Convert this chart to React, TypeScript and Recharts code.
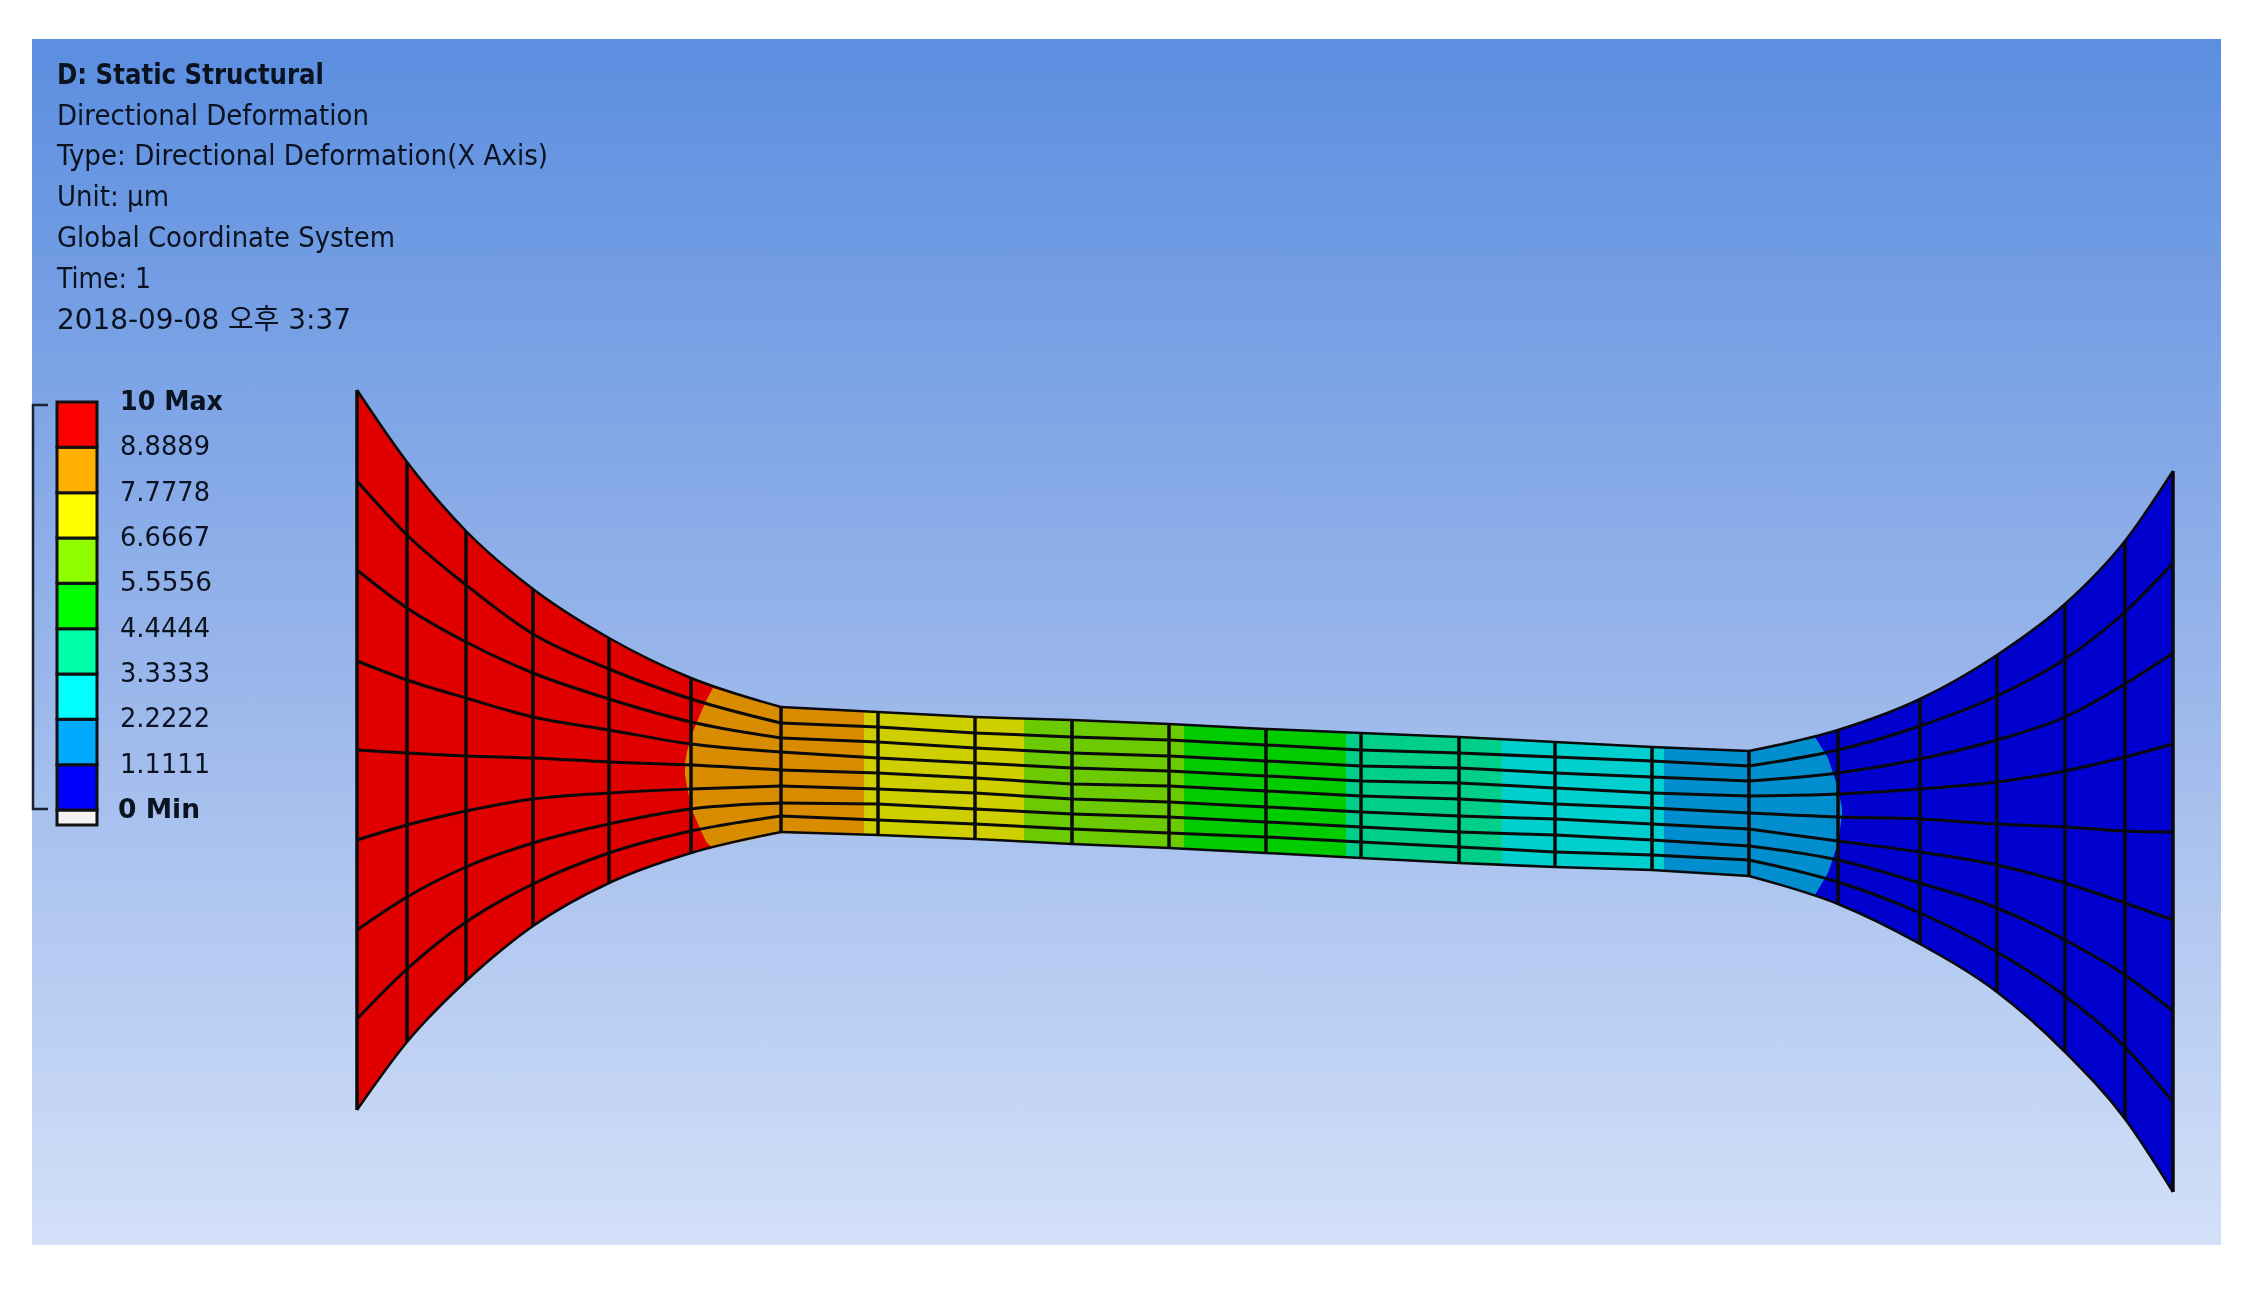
import React from "react";
import { ComposedChart, BarChart, Area, Bar, Line, XAxis, YAxis, ReferenceArea } from "recharts";

const PAGE_W = 2256;
const PAGE_H = 1292;

// Header text (digitized baseline and width)
const headerLines = [
  "D: Static Structural",
  "Directional Deformation",
  "Type: Directional Deformation(X Axis)",
  "Unit: µm",
  "Global Coordinate System",
  "Time: 1",
  "2018-09-08 오후 3:37",
];
const headerBaselines = [84, 125, 165, 206, 247, 288, 329];
const headerWidths = [267, 312, 491, 112, 338, 94, 294];

// Legend
const legendTicks = [10, 8.8889, 7.7778, 6.6667, 5.5556, 4.4444, 3.3333, 2.2222, 1.1111, 0];
const legendLabels = ["10 Max", "8.8889", "7.7778", "6.6667", "5.5556", "4.4444", "3.3333", "2.2222", "1.1111", "0 Min"];
const legendLabelWidths = [103, 90, 90, 90, 92, 90, 90, 90, 90, 82];
const legendColors = ["#0000FF", "#00AAFF", "#00FFFF", "#00FFAA", "#00FF00", "#8FFF00", "#FFFF00", "#FFB000", "#FF0000"];

// Mesh columns and rows (digitized units)
const meshX = [357, 407, 466, 533, 609, 691, 781, 878, 975, 1072, 1169, 1266, 1361, 1459, 1555, 1652, 1749, 1838, 1920, 1997, 2065, 2125, 2173];
const row0 = [390, 462, 531, 589, 638, 678, 707, 712, 717, 720, 724, 729, 733, 737, 742, 747, 751, 730, 699, 655, 604, 541, 471];
const row1 = [481, 535, 585, 634, 669, 699, 723, 727, 733, 737, 740, 745, 750, 753, 757, 761, 766, 750, 726, 696, 659, 612, 563];
const row2 = [570, 608, 642, 673, 699, 722, 738, 742, 748, 753, 756, 761, 766, 768, 773, 777, 781, 773, 759, 740, 717, 684, 653];
const row3 = [661, 680, 698, 717, 730, 744, 752, 758, 763, 768, 771, 776, 781, 783, 788, 793, 796, 794, 789, 782, 771, 757, 744];
const row4 = [750, 753, 756, 758, 762, 765, 770, 773, 778, 784, 786, 791, 796, 799, 804, 808, 813, 817, 819, 824, 827, 831, 832];
const row5 = [840, 825, 811, 799, 793, 789, 786, 789, 793, 799, 802, 807, 812, 816, 819, 824, 829, 841, 852, 865, 883, 903, 920];
const row6 = [930, 897, 867, 843, 824, 809, 803, 804, 809, 814, 817, 822, 827, 832, 835, 840, 846, 860, 883, 908, 940, 975, 1011];
const row7 = [1019, 969, 922, 884, 853, 831, 816, 820, 824, 829, 833, 837, 842, 847, 852, 855, 860, 882, 913, 952, 996, 1047, 1102];
const row8 = [1110, 1042, 981, 926, 883, 853, 832, 835, 839, 844, 848, 853, 858, 863, 867, 870, 876, 904, 944, 992, 1052, 1119, 1192];
const rows = [row0, row1, row2, row3, row4, row5, row6, row7, row8];

// Contour bands: [x, upper, lower]
const bandRed = [[357, 390, 1110], [407, 462, 1042], [466, 531, 981], [533, 589, 926], [609, 638, 883], [691, 678, 853], [781, 707, 832]];
const bandOrange = [[685, 763, 775], [687, 752, 787], [692, 734, 810], [702, 710, 833], [707, 699, 843], [713, 688, 848], [781, 707, 833], [864, 711, 835]];
const bandYellow = [[864, 711, 835], [878, 712, 835], [975, 717, 839], [1024, 718, 842]];
const bandLime = [[1024, 718, 842], [1072, 720, 844], [1169, 724, 848], [1184, 725, 849]];
const bandGreen = [[1184, 725, 849], [1266, 729, 853], [1346, 733, 857]];
const bandTeal = [[1346, 733, 857], [1361, 733, 858], [1459, 737, 863], [1502, 739, 865]];
const bandCyan = [[1502, 739, 865], [1555, 742, 867], [1652, 747, 870], [1664, 747, 871]];
const bandDarkBlue = [[1749, 751, 876], [1838, 730, 904], [1920, 699, 944], [1997, 655, 992], [2065, 604, 1052], [2125, 541, 1119], [2173, 471, 1192]];
const bandBlue = [[1664, 747, 871], [1749, 751, 876], [1815, 737, 895], [1828, 758, 873], [1838, 788, 843], [1842, 808, 815]];

const bands = [
  { id: "red", pts: bandRed, fill: "#E00000", curve: "monotone" },
  { id: "orange", pts: bandOrange, fill: "#DA8C00", curve: "linear" },
  { id: "yellow", pts: bandYellow, fill: "#CFCF00", curve: "linear" },
  { id: "lime", pts: bandLime, fill: "#6CCB00", curve: "linear" },
  { id: "green", pts: bandGreen, fill: "#00CC00", curve: "linear" },
  { id: "teal", pts: bandTeal, fill: "#00CF8C", curve: "linear" },
  { id: "cyan", pts: bandCyan, fill: "#00CFCF", curve: "linear" },
  { id: "darkblue", pts: bandDarkBlue, fill: "#0000CF", curve: "monotone" },
  { id: "blue", pts: bandBlue, fill: "#008ECF", curve: "linear" },
];

const bracket = [{ x: 48, y: 405 }, { x: 33, y: 405 }, { x: 33, y: 809 }, { x: 48, y: 809 }];

// The flared ends bend smoothly; the straight neck joins them at a corner.
const meshSegments = [
  { from: 0, to: 6, curve: "monotone" },
  { from: 6, to: 16, curve: "linear" },
  { from: 16, to: 22, curve: "monotone" },
];

const meshTable = meshX.map((x) => ({ x }));
const columns = meshX.map((x, c) => rows.map((r) => ({ x, y: r[c] })));

const legendRow: any = { name: "legend", white: -0.368 };
legendColors.forEach((_, i) => (legendRow["b" + i] = 1.1111));

const FONT = "'DejaVu Sans', 'Noto Sans CJK KR', sans-serif";
const INK = "#0b1220";

const LegendTick = (props: any) => {
  const i = legendTicks.indexOf(props.payload.value);
  const bold = i === 0 || i === legendTicks.length - 1;
  return (
    <text
      x={props.x + 15 - (bold && i > 0 ? 2 : 0)}
      y={props.y + 8}
      fontFamily={FONT}
      fontSize={27}
      fontWeight={bold ? 700 : 400}
      fill={INK}
      textLength={legendLabelWidths[i]}
      lengthAdjust="spacingAndGlyphs"
    >
      {legendLabels[i]}
    </text>
  );
};

export default function App() {
  return (
    <div style={{ position: "absolute", left: 0, top: 0, width: PAGE_W, height: PAGE_H, background: "#fff", overflow: "hidden", filter: "blur(0.6px)" }}>
      <ComposedChart width={PAGE_W} height={PAGE_H} data={meshTable} margin={{ top: 0, right: 0, bottom: 0, left: 0 }}>
        <defs>
          <linearGradient id="sky" x1="0" y1="0" x2="0" y2="1">
            <stop offset="0%" stopColor="#5B8EE0" />
            <stop offset="50%" stopColor="#96B4EA" />
            <stop offset="100%" stopColor="#D3E0F8" />
          </linearGradient>
        </defs>
        <XAxis type="number" dataKey="x" domain={[0, PAGE_W]} hide />
        <YAxis type="number" domain={[0, PAGE_H]} reversed hide />
        <ReferenceArea x1={32} x2={2221} y1={39} y2={1245} fill="url(#sky)" fillOpacity={1} stroke="none" />
        {bands.map((b) => (
          <Area
            key={b.id}
            data={b.pts.map(([x, lo, hi]) => ({ x, range: [lo, hi] }))}
            dataKey="range"
            type={b.curve as any}
            fill={b.fill}
            fillOpacity={1}
            stroke="none"
            dot={false}
            activeDot={false}
            isAnimationActive={false}
          />
        ))}
        {rows.flatMap((r, i) =>
          meshSegments.map((s) => (
            <Line
              key={"row" + i + "-" + s.from}
              data={meshX.slice(s.from, s.to + 1).map((x, k) => ({ x, y: r[s.from + k] }))}
              dataKey="y"
              type={s.curve as any}
              stroke="#0a0a0a"
              strokeWidth={i === 0 || i === 8 ? 2.5 : 3}
              dot={false}
              activeDot={false}
              isAnimationActive={false}
            />
          ))
        )}
        {columns.map((pts, c) => (
          <Line
            key={"col" + c}
            data={pts}
            dataKey="y"
            type="linear"
            stroke="#0a0a0a"
            strokeWidth={3.5}
            dot={false}
            activeDot={false}
            isAnimationActive={false}
          />
        ))}
        <Line data={bracket} dataKey="y" type="linear" stroke="#1a2230" strokeWidth={2.5} dot={false} activeDot={false} isAnimationActive={false} />
      </ComposedChart>

      <div style={{ position: "absolute", left: 55, top: 382, width: 240, height: 463 }}>
        <BarChart
          width={240}
          height={463}
          data={[legendRow]}
          stackOffset="sign"
          barCategoryGap={0}
          margin={{ top: 20, right: 0, bottom: 20, left: 2 }}
        >
          <XAxis type="category" dataKey="name" hide />
          <YAxis
            orientation="right"
            type="number"
            domain={[-0.368, 10]}
            ticks={legendTicks}
            interval={0}
            width={198}
            axisLine={false}
            tickLine={false}
            tick={LegendTick as any}
          />
          <Bar dataKey="white" stackId="s" fill="#F2F2F2" stroke="#111" strokeWidth={3} isAnimationActive={false} />
          {legendColors.map((col, i) => (
            <Bar key={col} dataKey={"b" + i} stackId="s" fill={col} stroke="#111" strokeWidth={3} isAnimationActive={false} />
          ))}
        </BarChart>
      </div>

      <svg width={PAGE_W} height={PAGE_H} style={{ position: "absolute", left: 0, top: 0, pointerEvents: "none" }}>
        {headerLines.map((t, i) => (
          <text
            key={i}
            x={57}
            y={headerBaselines[i]}
            fontFamily={FONT}
            fontSize={28}
            fontWeight={i === 0 ? 700 : 400}
            fill={INK}
            textLength={headerWidths[i]}
            lengthAdjust="spacingAndGlyphs"
          >
            {t}
          </text>
        ))}
      </svg>
    </div>
  );
}
